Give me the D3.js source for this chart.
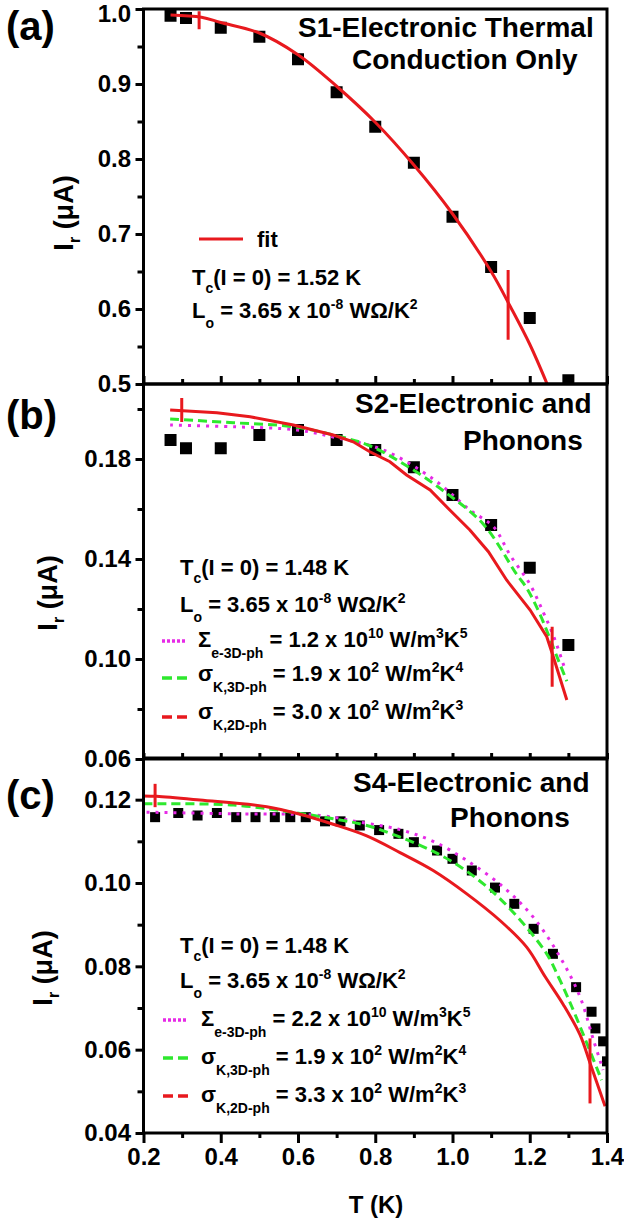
<!DOCTYPE html>
<html><head><meta charset="utf-8">
<script src="https://cdn.jsdelivr.net/npm/d3@7"></script>
<style>body{margin:0;background:#fff}svg{display:block}</style>
</head><body>
<script>
// ---------- data ----------
const xTicks = [0.2, 0.4, 0.6, 0.8, 1.0, 1.2, 1.4];
const xMinor = [0.3, 0.5, 0.7, 0.9, 1.1, 1.3];

// panel (a)
const aTicks = [0.5, 0.6, 0.7, 0.8, 0.9, 1.0];
const aMinor = [0.55, 0.65, 0.75, 0.85, 0.95];
const aDataT = [0.27, 0.31, 0.40, 0.50, 0.60, 0.70, 0.80, 0.90, 1.00, 1.10, 1.20, 1.30];
const aDataI = [0.991, 0.988, 0.975, 0.963, 0.933, 0.889, 0.843, 0.795, 0.723, 0.656, 0.588, 0.505];
const aFitT = [0.27, 0.35, 0.40, 0.50, 0.60, 0.70, 0.80, 0.90, 1.00, 1.10, 1.15, 1.20, 1.245];
const aFitI = [0.992, 0.989, 0.982, 0.968, 0.939, 0.897, 0.849, 0.792, 0.727, 0.650, 0.603, 0.553, 0.50];
const aMarkT = [0.344, 1.144];
const aMarkLo = [0.973, 0.559];
const aMarkHi = [0.997, 0.652];

// panel (b)
const bTicks = [0.06, 0.10, 0.14, 0.18];
const bMinor = [0.08, 0.12, 0.16, 0.20];
const bDataT = [0.27, 0.31, 0.40, 0.50, 0.60, 0.70, 0.80, 0.90, 1.00, 1.10, 1.20, 1.30];
const bDataI = [0.1876, 0.1843, 0.1843, 0.1896, 0.1916, 0.1876, 0.1836, 0.1767, 0.1656, 0.1536, 0.1365, 0.1056];
const bRedT = [0.269, 0.39, 0.476, 0.588, 0.691, 0.743, 0.786, 0.838, 0.881, 0.942, 0.993, 1.045, 1.093, 1.140, 1.201, 1.244, 1.261, 1.296];
const bRedI = [0.1996, 0.1985, 0.1969, 0.1936, 0.1896, 0.1869, 0.1829, 0.1789, 0.1736, 0.1676, 0.1596, 0.1516, 0.1429, 0.1316, 0.1196, 0.1089, 0.1009, 0.0836];
const bGreenT = [0.269, 0.433, 0.588, 0.700, 0.786, 0.881, 0.976, 1.080, 1.166, 1.192, 1.227, 1.270, 1.296];
const bGreenI = [0.1960, 0.1945, 0.1929, 0.1893, 0.1853, 0.1773, 0.1673, 0.1539, 0.1339, 0.1284, 0.1177, 0.1011, 0.0911];
const bMagT = [0.269, 0.433, 0.597, 0.700, 0.821, 0.950, 1.045, 1.106, 1.149, 1.200, 1.235, 1.262, 1.291];
const bMagI = [0.1936, 0.1929, 0.1916, 0.1885, 0.1836, 0.1720, 0.1596, 0.1529, 0.1416, 0.1300, 0.1187, 0.1090, 0.0960];
const bMarkT = [0.299, 1.258];
const bMarkLo = [0.1948, 0.0889];
const bMarkHi = [0.2044, 0.1129];

// panel (c)
const cTicks = [0.04, 0.06, 0.08, 0.10, 0.12];
const cMinor = [0.05, 0.07, 0.09, 0.11];
const cDataT = [0.23, 0.29, 0.34, 0.39, 0.44, 0.49, 0.54, 0.58, 0.62, 0.67, 0.71, 0.76, 0.81, 0.86, 0.90, 0.96, 1.00, 1.05, 1.11, 1.16, 1.21, 1.26, 1.32, 1.36, 1.37, 1.39, 1.40];
const cDataI = [0.1158, 0.1168, 0.1162, 0.1168, 0.1158, 0.1158, 0.1158, 0.1158, 0.1158, 0.1148, 0.1148, 0.1138, 0.1127, 0.1118, 0.1098, 0.1078, 0.1058, 0.1030, 0.0989, 0.0950, 0.0890, 0.0830, 0.0750, 0.0691, 0.0651, 0.0620, 0.0572];
const cRedT = [0.20, 0.234, 0.346, 0.519, 0.605, 0.691, 0.778, 0.864, 0.950, 1.037, 1.123, 1.192, 1.24, 1.287, 1.330, 1.356, 1.395];
const cRedI = [0.1209, 0.1208, 0.1199, 0.1183, 0.1165, 0.1141, 0.1113, 0.1073, 0.1030, 0.0974, 0.0910, 0.0846, 0.0775, 0.0708, 0.0636, 0.0568, 0.0464];
const cGreenT = [0.20, 0.433, 0.605, 0.691, 0.778, 0.907, 0.994, 1.080, 1.157, 1.244, 1.274, 1.309, 1.386];
const cGreenI = [0.1190, 0.1187, 0.1167, 0.1154, 0.1138, 0.1094, 0.1054, 0.0998, 0.0930, 0.0830, 0.0775, 0.0703, 0.0527];
const cMagT = [0.208, 0.433, 0.657, 0.760, 0.864, 0.950, 1.037, 1.132, 1.209, 1.278, 1.330, 1.365, 1.390];
const cMagI = [0.1170, 0.1166, 0.1162, 0.1146, 0.1128, 0.1100, 0.1054, 0.0990, 0.0918, 0.0823, 0.0727, 0.0623, 0.0551];
const cMarkT = [0.23, 1.356];
const cMarkLo = [0.1182, 0.0471];
const cMarkHi = [0.1238, 0.0627];

// ---------- drawing ----------
const W = 624, H = 1226;
const L = 143.5, R = 607;
const FONT = "'Liberation Sans', Arial, Helvetica, sans-serif";
const RED = "#e8191e", GREEN = "#2ee82e", MAG = "#e62ae6";

const svg = d3.select("body").append("svg").attr("width", W).attr("height", H)
  .attr("font-family", FONT).attr("font-weight", "bold");

const x = d3.scaleLinear().domain([0.2, 1.4]).range([L, R]);

const panels = [
  {id: "a", y: d3.scaleLinear().domain([0.5, 1.0]).range([384, 9]), ticks: aTicks, minor: aMinor, fmt: d3.format(".1f"),
   dT: aDataT, dI: aDataI, sq: 12, mT: aMarkT, mLo: aMarkLo, mHi: aMarkHi,
   curves: [{T: aFitT, I: aFitI, color: RED, dash: null, curve: d3.curveCatmullRom}]},
  {id: "b", y: d3.scaleLinear().domain([0.06, 0.21]).range([759, 384]), ticks: bTicks, minor: bMinor, fmt: d3.format(".2f"),
   dT: bDataT, dI: bDataI, sq: 12, mT: bMarkT, mLo: bMarkLo, mHi: bMarkHi,
   curves: [{T: bMagT, I: bMagI, color: MAG, dash: "3,6", curve: d3.curveCatmullRom},
            {T: bGreenT, I: bGreenI, color: GREEN, dash: "9,5", curve: d3.curveCatmullRom},
            {T: bRedT, I: bRedI, color: RED, dash: null, curve: d3.curveLinear}]},
  {id: "c", y: d3.scaleLinear().domain([0.04, 0.13]).range([1133, 758]), ticks: cTicks, minor: cMinor, fmt: d3.format(".2f"),
   dT: cDataT, dI: cDataI, sq: 10, mT: cMarkT, mLo: cMarkLo, mHi: cMarkHi,
   curves: [{T: cMagT, I: cMagI, color: MAG, dash: "3,6", curve: d3.curveCatmullRom},
            {T: cGreenT, I: cGreenI, color: GREEN, dash: "9,5", curve: d3.curveCatmullRom},
            {T: cRedT, I: cRedI, color: RED, dash: null, curve: d3.curveCatmullRom}]}
];

panels.forEach((p, idx) => {
  const y = p.y;
  const top = y.range()[1], bot = y.range()[0];
  const g = svg.append("g");
  svg.append("defs").append("clipPath").attr("id", "clip" + p.id)
    .append("rect").attr("x", L).attr("y", top).attr("width", R - L).attr("height", bot - top);
  const plot = g.append("g").attr("clip-path", `url(#clip${p.id})`);

  // squares
  plot.selectAll("rect.sq").data(p.dT.map((t, i) => [t, p.dI[i]])).enter().append("rect")
    .attr("x", d => x(d[0]) - p.sq / 2).attr("y", d => y(d[1]) - p.sq / 2)
    .attr("width", p.sq).attr("height", p.sq).attr("fill", "#000");

  // curves
  p.curves.forEach(c => {
    const line = d3.line().x(d => x(d[0])).y(d => y(d[1])).curve(c.curve);
    plot.append("path").attr("d", line(c.T.map((t, i) => [t, c.I[i]])))
      .attr("fill", "none").attr("stroke", c.color).attr("stroke-width", 3)
      .attr("stroke-dasharray", c.dash);
  });

  // red markers
  g.selectAll("line.mk").data(p.mT.map((t, i) => [t, p.mLo[i], p.mHi[i]])).enter().append("line")
    .attr("x1", d => x(d[0])).attr("x2", d => x(d[0]))
    .attr("y1", d => y(d[1])).attr("y2", d => y(d[2]))
    .attr("stroke", RED).attr("stroke-width", 3);

  // frame
  g.append("rect").attr("x", L).attr("y", top).attr("width", R - L).attr("height", bot - top)
    .attr("fill", "none").attr("stroke", "#000").attr("stroke-width", 3);

  // y axis
  const ya = g.append("g").attr("transform", `translate(${L},0)`)
    .call(d3.axisLeft(y).tickValues(p.ticks).tickFormat(p.fmt).tickSize(8).tickSizeOuter(0).tickPadding(4.5));
  const ym = g.append("g").attr("transform", `translate(${L},0)`)
    .call(d3.axisLeft(y).tickValues(p.minor).tickFormat("").tickSize(6).tickSizeOuter(0));
  [ya, ym].forEach(a => { a.select(".domain").remove(); a.selectAll("line").attr("stroke-width", 3); });
  ya.selectAll("text").attr("font-size", 24).attr("font-family", FONT).attr("font-weight", "bold").attr("fill", "#000");
  if (idx === 0) ya.selectAll(".tick").filter(d => d === 1.0).select("text").attr("dy", "0.5em");

  // x axis
  if (idx < 2) {
    const up = idx === 0 ? 8 : 6, upm = idx === 0 ? 5 : 6;
    const xa = g.append("g").attr("transform", `translate(0,${bot})`)
      .call(d3.axisTop(x).tickValues(xTicks).tickFormat("").tickSize(up).tickSizeOuter(0));
    const xm = g.append("g").attr("transform", `translate(0,${bot})`)
      .call(d3.axisTop(x).tickValues(xMinor).tickFormat("").tickSize(upm).tickSizeOuter(0));
    [xa, xm].forEach(a => { a.select(".domain").remove(); a.selectAll("line").attr("stroke-width", 3); });
  } else {
    const xa = g.append("g").attr("transform", `translate(0,${bot})`)
      .call(d3.axisBottom(x).tickValues(xTicks).tickFormat(d3.format(".1f")).tickSize(10).tickSizeOuter(0).tickPadding(5));
    const xm = g.append("g").attr("transform", `translate(0,${bot})`)
      .call(d3.axisBottom(x).tickValues(xMinor).tickFormat("").tickSize(5).tickSizeOuter(0));
    [xa, xm].forEach(a => { a.select(".domain").remove(); a.selectAll("line").attr("stroke-width", 3); });
    xa.selectAll("text").attr("font-size", 24).attr("font-family", FONT).attr("font-weight", "bold").attr("fill", "#000");
  }
});

// ---------- rich text helper ----------
function rich(x0, y0, parts, size, small, subShift, supShift) {
  const t = svg.append("text").attr("x", x0).attr("y", y0).attr("font-size", size).attr("fill", "#000");
  let cur = 0;
  parts.forEach(p => {
    const target = p.sub ? subShift : (p.sup ? -supShift : 0);
    const ts = t.append("tspan").text(p.t).attr("dy", target - cur);
    if (p.sub || p.sup) ts.attr("font-size", small);
    cur = target;
  });
  return t;
}

// panel labels
[["(a)", 6, 40], ["(b)", 6, 429], ["(c)", 6, 809]].forEach(d =>
  svg.append("text").attr("x", d[1]).attr("y", d[2]).attr("font-size", 40).text(d[0]));

// titles
[["S1-Electronic Thermal", 298, 37], ["Conduction Only", 352, 69],
 ["S2-Electronic and", 355, 413], ["Phonons", 463, 450],
 ["S4-Electronic and", 353, 792], ["Phonons", 450, 827]].forEach(d =>
  svg.append("text").attr("x", d[1]).attr("y", d[2]).attr("font-size", 28).text(d[0]));

// y titles
[[73, 213], [57, 593], [52, 968]].forEach(d => {
  const t = svg.append("text").attr("transform", `translate(${d[0]},${d[1]}) rotate(-90)`)
    .attr("text-anchor", "middle").attr("font-size", 27);
  t.append("tspan").text("I");
  t.append("tspan").text("r").attr("font-size", 16).attr("dy", 7);
  t.append("tspan").text(" (μA)").attr("dy", -7);
});

// x title
svg.append("text").attr("x", 376).attr("y", 1213).attr("text-anchor", "middle").attr("font-size", 24).text("T (K)");

// panel (a) annotation
svg.append("line").attr("x1", 199).attr("x2", 243).attr("y1", 239).attr("y2", 239).attr("stroke", RED).attr("stroke-width", 3);
svg.append("text").attr("x", 257).attr("y", 247).attr("font-size", 22).text("fit");
rich(192, 285, [{t: "T"}, {t: "c", sub: 1}, {t: "(I = 0) = 1.52 K"}], 22, 14, 8, 9);
rich(192, 318, [{t: "L"}, {t: "o", sub: 1}, {t: " = 3.65 x 10"}, {t: "-8", sup: 1}, {t: " WΩ/K"}, {t: "2", sup: 1}], 22, 14, 10, 9);

// panels (b),(c) annotations
function legendBlock(tcY, loY, x0, tc, rows, sampleX, xs) {
  rich(x0, tcY, [{t: "T"}, {t: "c", sub: 1}, {t: "(I = 0) = " + tc + " K"}], 22, 14, 8, 9);
  rich(x0, loY, [{t: "L"}, {t: "o", sub: 1}, {t: " = 3.65 x 10"}, {t: "-8", sup: 1}, {t: " WΩ/K"}, {t: "2", sup: 1}], 22, 14, 10, 9);
  rows.forEach(r => {
    svg.append("line").attr("x1", sampleX).attr("x2", sampleX + 25).attr("y1", r.ly).attr("y2", r.ly)
      .attr("stroke", r.color).attr("stroke-width", 3.5).attr("stroke-dasharray", r.dash);
    rich(xs, r.ty, r.parts, 22, 14, 11, 9);
  });
}
legendBlock(575, 612, 180, "1.48", [
  {ly: 641, ty: 647, color: MAG, dash: "3,2", parts: [{t: "Σ"}, {t: "e-3D-ph", sub: 1}, {t: " = 1.2 x 10"}, {t: "10", sup: 1}, {t: " W/m"}, {t: "3", sup: 1}, {t: "K"}, {t: "5", sup: 1}]},
  {ly: 678, ty: 681, color: GREEN, dash: "10,5", parts: [{t: "σ"}, {t: "K,3D-ph", sub: 1}, {t: " = 1.9 x 10"}, {t: "2", sup: 1}, {t: " W/m"}, {t: "2", sup: 1}, {t: "K"}, {t: "4", sup: 1}]},
  {ly: 717, ty: 719, color: RED, dash: "10,5", parts: [{t: "σ"}, {t: "K,2D-ph", sub: 1}, {t: " = 3.0 x 10"}, {t: "2", sup: 1}, {t: " W/m"}, {t: "2", sup: 1}, {t: "K"}, {t: "3", sup: 1}]}
], 162, 198);
legendBlock(953, 988, 180, "1.48", [
  {ly: 1020, ty: 1026, color: MAG, dash: "3,2", parts: [{t: "Σ"}, {t: "e-3D-ph", sub: 1}, {t: " = 2.2 x 10"}, {t: "10", sup: 1}, {t: " W/m"}, {t: "3", sup: 1}, {t: "K"}, {t: "5", sup: 1}]},
  {ly: 1058, ty: 1064, color: GREEN, dash: "10,5", parts: [{t: "σ"}, {t: "K,3D-ph", sub: 1}, {t: " = 1.9 x 10"}, {t: "2", sup: 1}, {t: " W/m"}, {t: "2", sup: 1}, {t: "K"}, {t: "4", sup: 1}]},
  {ly: 1096, ty: 1102, color: RED, dash: "10,5", parts: [{t: "σ"}, {t: "K,2D-ph", sub: 1}, {t: " = 3.3 x 10"}, {t: "2", sup: 1}, {t: " W/m"}, {t: "2", sup: 1}, {t: "K"}, {t: "3", sup: 1}]}
], 163, 201);
</script>
</body></html>
